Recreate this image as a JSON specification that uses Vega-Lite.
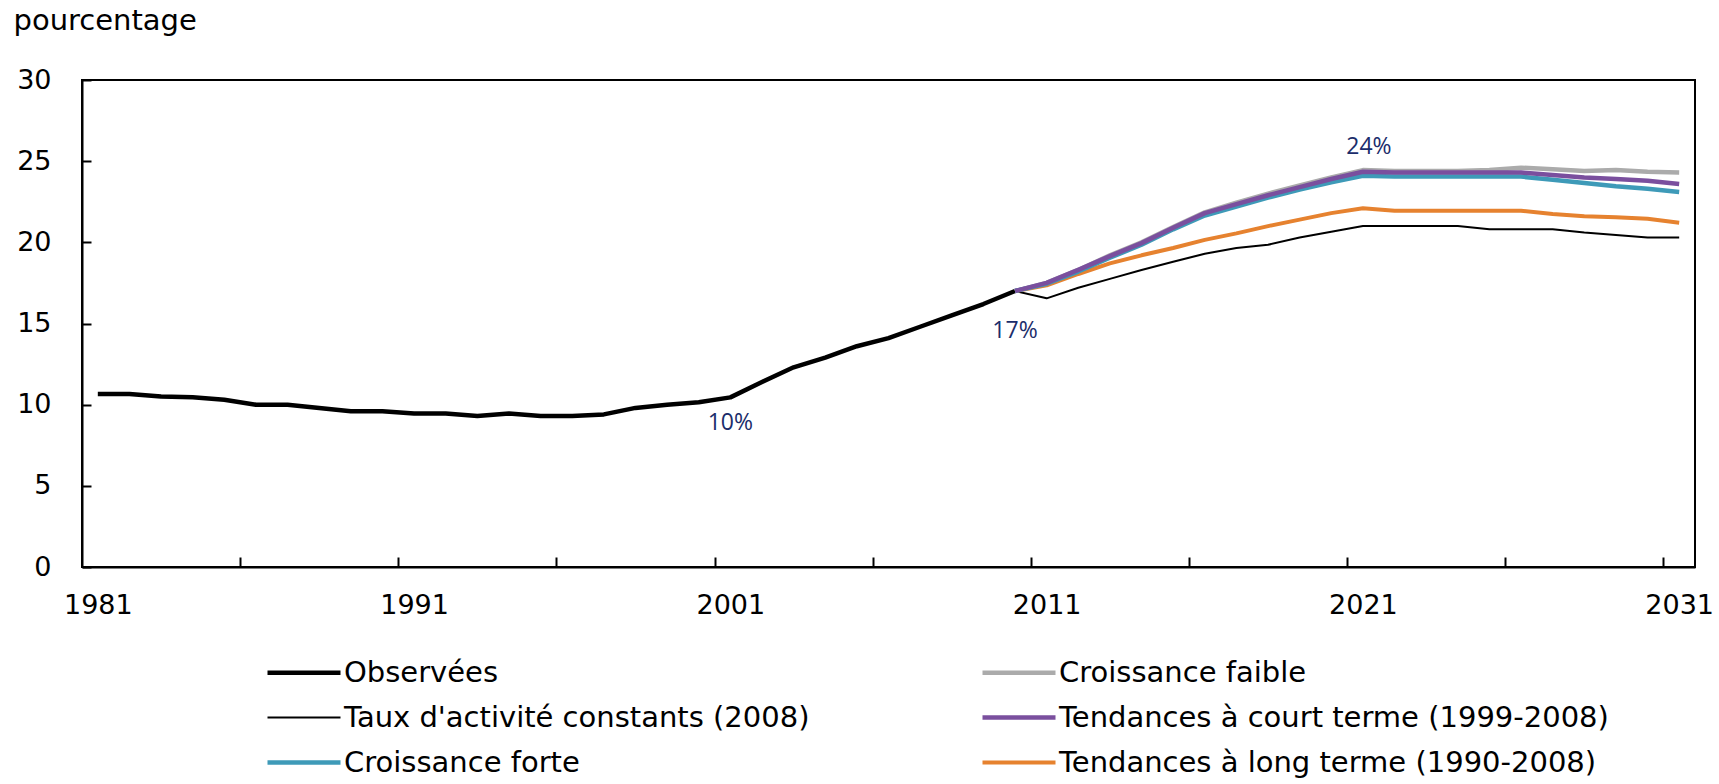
{
  "$schema": "https://vega.github.io/schema/vega-lite/v6.json",
  "width": 1613,
  "height": 487,
  "autosize": {"type": "none"},
  "padding": {"left": 82, "top": 80, "right": 24, "bottom": 217},
  "background": "white",
  "config": {
    "view": {"stroke": "#000000", "strokeWidth": 2},
    "font": "DejaVu Sans"
  },
  "datasets": {
    "series": [
      {"year": 1981, "value": 10.65, "series": "Observées"},
      {"year": 1982, "value": 10.65, "series": "Observées"},
      {"year": 1983, "value": 10.5, "series": "Observées"},
      {"year": 1984, "value": 10.45, "series": "Observées"},
      {"year": 1985, "value": 10.3, "series": "Observées"},
      {"year": 1986, "value": 10.0, "series": "Observées"},
      {"year": 1987, "value": 10.0, "series": "Observées"},
      {"year": 1988, "value": 9.8, "series": "Observées"},
      {"year": 1989, "value": 9.6, "series": "Observées"},
      {"year": 1990, "value": 9.6, "series": "Observées"},
      {"year": 1991, "value": 9.45, "series": "Observées"},
      {"year": 1992, "value": 9.45, "series": "Observées"},
      {"year": 1993, "value": 9.3, "series": "Observées"},
      {"year": 1994, "value": 9.45, "series": "Observées"},
      {"year": 1995, "value": 9.3, "series": "Observées"},
      {"year": 1996, "value": 9.3, "series": "Observées"},
      {"year": 1997, "value": 9.4, "series": "Observées"},
      {"year": 1998, "value": 9.8, "series": "Observées"},
      {"year": 1999, "value": 10.0, "series": "Observées"},
      {"year": 2000, "value": 10.15, "series": "Observées"},
      {"year": 2001, "value": 10.45, "series": "Observées"},
      {"year": 2002, "value": 11.4, "series": "Observées"},
      {"year": 2003, "value": 12.3, "series": "Observées"},
      {"year": 2004, "value": 12.9, "series": "Observées"},
      {"year": 2005, "value": 13.6, "series": "Observées"},
      {"year": 2006, "value": 14.1, "series": "Observées"},
      {"year": 2007, "value": 14.8, "series": "Observées"},
      {"year": 2008, "value": 15.5, "series": "Observées"},
      {"year": 2009, "value": 16.2, "series": "Observées"},
      {"year": 2010, "value": 17.0, "series": "Observées"},

      {"year": 2010, "value": 17.0, "series": "Taux d'activité constants (2008)"},
      {"year": 2011, "value": 16.55, "series": "Taux d'activité constants (2008)"},
      {"year": 2012, "value": 17.2, "series": "Taux d'activité constants (2008)"},
      {"year": 2013, "value": 17.75, "series": "Taux d'activité constants (2008)"},
      {"year": 2014, "value": 18.3, "series": "Taux d'activité constants (2008)"},
      {"year": 2015, "value": 18.8, "series": "Taux d'activité constants (2008)"},
      {"year": 2016, "value": 19.3, "series": "Taux d'activité constants (2008)"},
      {"year": 2017, "value": 19.65, "series": "Taux d'activité constants (2008)"},
      {"year": 2018, "value": 19.85, "series": "Taux d'activité constants (2008)"},
      {"year": 2019, "value": 20.3, "series": "Taux d'activité constants (2008)"},
      {"year": 2020, "value": 20.65, "series": "Taux d'activité constants (2008)"},
      {"year": 2021, "value": 21.0, "series": "Taux d'activité constants (2008)"},
      {"year": 2022, "value": 21.0, "series": "Taux d'activité constants (2008)"},
      {"year": 2023, "value": 21.0, "series": "Taux d'activité constants (2008)"},
      {"year": 2024, "value": 21.0, "series": "Taux d'activité constants (2008)"},
      {"year": 2025, "value": 20.8, "series": "Taux d'activité constants (2008)"},
      {"year": 2026, "value": 20.8, "series": "Taux d'activité constants (2008)"},
      {"year": 2027, "value": 20.8, "series": "Taux d'activité constants (2008)"},
      {"year": 2028, "value": 20.6, "series": "Taux d'activité constants (2008)"},
      {"year": 2029, "value": 20.45, "series": "Taux d'activité constants (2008)"},
      {"year": 2030, "value": 20.3, "series": "Taux d'activité constants (2008)"},
      {"year": 2031, "value": 20.3, "series": "Taux d'activité constants (2008)"},

      {"year": 2010, "value": 17.0, "series": "Tendances à long terme (1990-2008)"},
      {"year": 2011, "value": 17.35, "series": "Tendances à long terme (1990-2008)"},
      {"year": 2012, "value": 18.05, "series": "Tendances à long terme (1990-2008)"},
      {"year": 2013, "value": 18.7, "series": "Tendances à long terme (1990-2008)"},
      {"year": 2014, "value": 19.2, "series": "Tendances à long terme (1990-2008)"},
      {"year": 2015, "value": 19.65, "series": "Tendances à long terme (1990-2008)"},
      {"year": 2016, "value": 20.15, "series": "Tendances à long terme (1990-2008)"},
      {"year": 2017, "value": 20.55, "series": "Tendances à long terme (1990-2008)"},
      {"year": 2018, "value": 21.0, "series": "Tendances à long terme (1990-2008)"},
      {"year": 2019, "value": 21.4, "series": "Tendances à long terme (1990-2008)"},
      {"year": 2020, "value": 21.8, "series": "Tendances à long terme (1990-2008)"},
      {"year": 2021, "value": 22.1, "series": "Tendances à long terme (1990-2008)"},
      {"year": 2022, "value": 21.95, "series": "Tendances à long terme (1990-2008)"},
      {"year": 2023, "value": 21.95, "series": "Tendances à long terme (1990-2008)"},
      {"year": 2024, "value": 21.95, "series": "Tendances à long terme (1990-2008)"},
      {"year": 2025, "value": 21.95, "series": "Tendances à long terme (1990-2008)"},
      {"year": 2026, "value": 21.95, "series": "Tendances à long terme (1990-2008)"},
      {"year": 2027, "value": 21.75, "series": "Tendances à long terme (1990-2008)"},
      {"year": 2028, "value": 21.6, "series": "Tendances à long terme (1990-2008)"},
      {"year": 2029, "value": 21.55, "series": "Tendances à long terme (1990-2008)"},
      {"year": 2030, "value": 21.45, "series": "Tendances à long terme (1990-2008)"},
      {"year": 2031, "value": 21.2, "series": "Tendances à long terme (1990-2008)"},

      {"year": 2010, "value": 17.0, "series": "Croissance faible"},
      {"year": 2011, "value": 17.5, "series": "Croissance faible"},
      {"year": 2012, "value": 18.3, "series": "Croissance faible"},
      {"year": 2013, "value": 19.2, "series": "Croissance faible"},
      {"year": 2014, "value": 20.0, "series": "Croissance faible"},
      {"year": 2015, "value": 20.95, "series": "Croissance faible"},
      {"year": 2016, "value": 21.85, "series": "Croissance faible"},
      {"year": 2017, "value": 22.45, "series": "Croissance faible"},
      {"year": 2018, "value": 23.0, "series": "Croissance faible"},
      {"year": 2019, "value": 23.5, "series": "Croissance faible"},
      {"year": 2020, "value": 24.0, "series": "Croissance faible"},
      {"year": 2021, "value": 24.45, "series": "Croissance faible"},
      {"year": 2022, "value": 24.4, "series": "Croissance faible"},
      {"year": 2023, "value": 24.4, "series": "Croissance faible"},
      {"year": 2024, "value": 24.4, "series": "Croissance faible"},
      {"year": 2025, "value": 24.45, "series": "Croissance faible"},
      {"year": 2026, "value": 24.6, "series": "Croissance faible"},
      {"year": 2027, "value": 24.5, "series": "Croissance faible"},
      {"year": 2028, "value": 24.4, "series": "Croissance faible"},
      {"year": 2029, "value": 24.45, "series": "Croissance faible"},
      {"year": 2030, "value": 24.35, "series": "Croissance faible"},
      {"year": 2031, "value": 24.3, "series": "Croissance faible"},

      {"year": 2010, "value": 17.0, "series": "Croissance forte"},
      {"year": 2011, "value": 17.45, "series": "Croissance forte"},
      {"year": 2012, "value": 18.2, "series": "Croissance forte"},
      {"year": 2013, "value": 19.05, "series": "Croissance forte"},
      {"year": 2014, "value": 19.85, "series": "Croissance forte"},
      {"year": 2015, "value": 20.8, "series": "Croissance forte"},
      {"year": 2016, "value": 21.65, "series": "Croissance forte"},
      {"year": 2017, "value": 22.2, "series": "Croissance forte"},
      {"year": 2018, "value": 22.75, "series": "Croissance forte"},
      {"year": 2019, "value": 23.25, "series": "Croissance forte"},
      {"year": 2020, "value": 23.7, "series": "Croissance forte"},
      {"year": 2021, "value": 24.1, "series": "Croissance forte"},
      {"year": 2022, "value": 24.05, "series": "Croissance forte"},
      {"year": 2023, "value": 24.05, "series": "Croissance forte"},
      {"year": 2024, "value": 24.05, "series": "Croissance forte"},
      {"year": 2025, "value": 24.05, "series": "Croissance forte"},
      {"year": 2026, "value": 24.05, "series": "Croissance forte"},
      {"year": 2027, "value": 23.85, "series": "Croissance forte"},
      {"year": 2028, "value": 23.65, "series": "Croissance forte"},
      {"year": 2029, "value": 23.45, "series": "Croissance forte"},
      {"year": 2030, "value": 23.3, "series": "Croissance forte"},
      {"year": 2031, "value": 23.1, "series": "Croissance forte"},

      {"year": 2010, "value": 17.0, "series": "Tendances à court terme (1999-2008)"},
      {"year": 2011, "value": 17.5, "series": "Tendances à court terme (1999-2008)"},
      {"year": 2012, "value": 18.3, "series": "Tendances à court terme (1999-2008)"},
      {"year": 2013, "value": 19.15, "series": "Tendances à court terme (1999-2008)"},
      {"year": 2014, "value": 19.95, "series": "Tendances à court terme (1999-2008)"},
      {"year": 2015, "value": 20.9, "series": "Tendances à court terme (1999-2008)"},
      {"year": 2016, "value": 21.8, "series": "Tendances à court terme (1999-2008)"},
      {"year": 2017, "value": 22.35, "series": "Tendances à court terme (1999-2008)"},
      {"year": 2018, "value": 22.9, "series": "Tendances à court terme (1999-2008)"},
      {"year": 2019, "value": 23.4, "series": "Tendances à court terme (1999-2008)"},
      {"year": 2020, "value": 23.9, "series": "Tendances à court terme (1999-2008)"},
      {"year": 2021, "value": 24.35, "series": "Tendances à court terme (1999-2008)"},
      {"year": 2022, "value": 24.3, "series": "Tendances à court terme (1999-2008)"},
      {"year": 2023, "value": 24.3, "series": "Tendances à court terme (1999-2008)"},
      {"year": 2024, "value": 24.3, "series": "Tendances à court terme (1999-2008)"},
      {"year": 2025, "value": 24.3, "series": "Tendances à court terme (1999-2008)"},
      {"year": 2026, "value": 24.3, "series": "Tendances à court terme (1999-2008)"},
      {"year": 2027, "value": 24.15, "series": "Tendances à court terme (1999-2008)"},
      {"year": 2028, "value": 24.0, "series": "Tendances à court terme (1999-2008)"},
      {"year": 2029, "value": 23.9, "series": "Tendances à court terme (1999-2008)"},
      {"year": 2030, "value": 23.8, "series": "Tendances à court terme (1999-2008)"},
      {"year": 2031, "value": 23.6, "series": "Tendances à court terme (1999-2008)"}
    ],
    "notes": [
      {"year": 2001, "value": 10.45, "label": "10%", "place": "below"},
      {"year": 2010, "value": 17.0, "label": "17%", "place": "below2"},
      {"year": 2021, "value": 24.4, "label": "24%", "place": "above"}
    ]
  },
  "layer": [
    {
      "data": {"name": "series"},
      "mark": {"type": "line", "strokeCap": "butt", "strokeJoin": "round"},
      "encoding": {
        "x": {
          "field": "year", "type": "quantitative",
          "scale": {"domain": [1980.5, 2031.5], "nice": false, "zero": false},
          "axis": {
            "title": null,
            "grid": false,
            "values": [1981, 1985.5, 1990.5, 1991, 1995.5, 2000.5, 2001, 2005.5, 2010.5, 2011, 2015.5, 2020.5, 2021, 2025.5, 2030.5, 2031],
            "format": "d",
            "labelExpr": "datum.value % 1 == 0 ? datum.label : ''",
            "tickOpacity": {"condition": {"test": "datum.value % 1 == 0", "value": 0}, "value": 1},
            "tickSize": -10,
            "tickWidth": 2,
            "tickColor": "#000000",
            "domainColor": "#000000",
            "domainWidth": 2,
            "labelOverlap": false,
            "labelFlush": false,
            "labelPadding": 35,
            "labelFont": "DejaVu Sans",
            "labelFontSize": 27,
            "labelColor": "#000000"
          }
        },
        "y": {
          "field": "value", "type": "quantitative",
          "scale": {"domain": [0, 30], "nice": false},
          "axis": {
            "values": [0, 5, 10, 15, 20, 25, 30],
            "grid": false,
            "tickSize": -9,
            "tickWidth": 2,
            "tickColor": "#000000",
            "domainColor": "#000000",
            "domainWidth": 2,
            "labelPadding": 40,
            "labelFont": "DejaVu Sans",
            "labelFontSize": 27,
            "labelColor": "#000000",
            "title": "pourcentage",
            "titleAngle": 0,
            "titleAlign": "left",
            "titleBaseline": "middle",
            "titleX": -69,
            "titleY": -60,
            "titleFont": "DejaVu Sans",
            "titleFontSize": 29,
            "titleFontWeight": "normal",
            "titleColor": "#000000"
          }
        },
        "color": {
          "field": "series", "type": "nominal",
          "scale": {
            "domain": ["Observées", "Croissance faible", "Taux d'activité constants (2008)", "Tendances à court terme (1999-2008)", "Croissance forte", "Tendances à long terme (1990-2008)"],
            "range": ["#000000", "#ababab", "#000000", "#7a4f9e", "#3e9ab8", "#e6822f"]
          },
          "legend": {
            "title": null,
            "orient": "none",
            "legendX": 183,
            "legendY": 578,
            "direction": "horizontal",
            "columns": 2,
            "columnPadding": 170,
            "rowPadding": 15,
            "clipHeight": 29,
            "padding": 0,
            "symbolType": "stroke",
            "symbolSize": 5329,
            "labelOffset": 1,
            "labelLimit": 800,
            "labelFont": "DejaVu Sans",
            "labelFontSize": 29,
            "labelColor": "#000000"
          }
        },
        "strokeWidth": {
          "field": "series", "type": "nominal",
          "scale": {
            "type": "ordinal",
            "domain": ["Observées", "Croissance faible", "Taux d'activité constants (2008)", "Tendances à court terme (1999-2008)", "Croissance forte", "Tendances à long terme (1990-2008)"],
            "range": [4.5, 4.5, 2, 4.5, 4.5, 4]
          }
        }
      }
    },
    {
      "data": {"name": "notes"},
      "transform": [{"filter": "datum.place == 'below'"}],
      "mark": {"type": "text", "font": "Open Sans", "fontSize": 23, "color": "#1b2d6b", "align": "center", "baseline": "middle", "dy": 26},
      "encoding": {
        "x": {"field": "year", "type": "quantitative"},
        "y": {"field": "value", "type": "quantitative"},
        "text": {"field": "label"}
      }
    },
    {
      "data": {"name": "notes"},
      "transform": [{"filter": "datum.place == 'below2'"}],
      "mark": {"type": "text", "font": "Open Sans", "fontSize": 23, "color": "#1b2d6b", "align": "center", "baseline": "middle", "dy": 40},
      "encoding": {
        "x": {"field": "year", "type": "quantitative"},
        "y": {"field": "value", "type": "quantitative"},
        "text": {"field": "label"}
      }
    },
    {
      "data": {"name": "notes"},
      "transform": [{"filter": "datum.place == 'above'"}],
      "mark": {"type": "text", "font": "Open Sans", "fontSize": 23, "color": "#1b2d6b", "align": "center", "baseline": "middle", "dy": -24, "dx": 6},
      "encoding": {
        "x": {"field": "year", "type": "quantitative"},
        "y": {"field": "value", "type": "quantitative"},
        "text": {"field": "label"}
      }
    }
  ]
}
